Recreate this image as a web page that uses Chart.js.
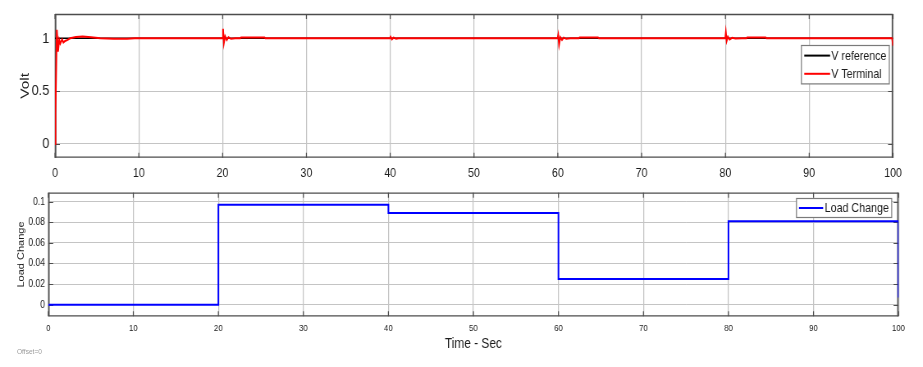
<!DOCTYPE html>
<html>
<head>
<meta charset="utf-8">
<script src="https://cdn.jsdelivr.net/npm/chart.js@4.4.0/dist/chart.umd.min.js"></script>
<style>
    body { margin: 0; background: #fff; width: 923px; height: 367px; overflow: hidden; position: relative; }
    /* the original picture is squeezed sideways, so draw wide and squeeze */
    canvas, #offset { position: absolute; left: 0; transform: scaleX(0.8204); transform-origin: 0 0; }
    #volt-chart { top: 0; }
    #load-chart { top: 185px; }
    #offset { left: 17px; top: 347px; font: 8px "Liberation Sans", Arial, sans-serif; color: #9a9a9a; white-space: nowrap; }
</style>
</head>
<body>
<canvas id="volt-chart" width="1125" height="185"></canvas>
<canvas id="load-chart" width="1125" height="182"></canvas>
<div id="offset">Offset=0</div>
<script>
// tick labels
const timeTicks = [0, 10, 20, 30, 40, 50, 60, 70, 80, 90, 100];
const voltTicks = [0, 0.5, 1];
const loadTicks = [0, 0.02, 0.04, 0.06, 0.08, 0.1];

// V reference
const refTime = [0, 100];
const refVolt = [1, 1];

// V Terminal (transients at 0, 20, 40, 60, 80 s)
const termTime = [
    0, 0.05, 0.22, 0.36, 0.5, 0.63, 0.84, 1.0, 1.2, 1.5, 1.8, 2.5, 3.3, 4.3, 5.4, 7, 8.6, 9.5,
    19.98, 20.05, 20.15, 20.3, 20.5, 20.7, 21.0, 21.5, 22.1, 22.2, 25.0, 25.1,
    39.98, 40.05, 40.2, 40.4, 40.7, 41.0,
    59.98, 60.05, 60.15, 60.3, 60.5, 60.7, 61.0, 61.5, 62.5, 62.6, 64.8, 64.9,
    79.98, 80.05, 80.15, 80.3, 80.5, 80.8, 81.2, 82.0, 82.5, 82.6, 84.8, 84.9,
    99.9, 100
];
const termVolt = [
    0, 0.3, 1.08, 0.875, 0.985, 0.95, 0.99, 0.96, 0.975, 0.985, 1.0, 1.012, 1.018, 1.01, 1.0, 0.995, 0.996, 1.0,
    1.0, 1.09, 0.955, 1.02, 0.985, 1.01, 0.995, 1.0, 1.0, 1.007, 1.007, 1.0,
    1.0, 1.012, 0.99, 1.006, 0.997, 1.0,
    1.0, 1.03, 0.94, 1.01, 0.985, 1.006, 0.995, 1.0, 1.0, 1.007, 1.007, 1.0,
    1.0, 1.055, 0.975, 1.015, 0.99, 1.005, 0.998, 1.0, 1.0, 1.007, 1.007, 1.0,
    1.0, 0.93
];

// Load Change (each value holds until the next time)
const loadTime = [0, 20, 40, 60, 80, 100];
const loadValue = [0, 0.097, 0.089, 0.025, 0.081, 0.007];

const FONT = '"Liberation Sans", Arial, sans-serif';
const SQ = 0.8204; // sideways squeeze of the canvas
const TXT = '#1c1c1c';

const pts = (xs, ys) => xs.map((x, i) => ({ x: x, y: ys[i] }));

// box round the plot with little inward tick marks
const frame = {
    id: 'frame',
    beforeDatasetsDraw(chart) {
        const { ctx, chartArea: a, scales: { x, y } } = chart;
        ctx.save();
        ctx.strokeStyle = '#4d4d4d';
        ctx.lineWidth = 1.2;
        ctx.beginPath();
        x.ticks.forEach(t => {
            const px = x.getPixelForValue(t.value);
            ctx.moveTo(px, a.bottom); ctx.lineTo(px, a.bottom - 5);
            ctx.moveTo(px, a.top); ctx.lineTo(px, a.top + 5);
        });
        ctx.stroke();
        ctx.lineWidth = 1;
        ctx.beginPath();
        y.ticks.forEach(t => {
            const py = Math.round(y.getPixelForValue(t.value)) + 0.5;
            ctx.moveTo(a.left, py); ctx.lineTo(a.left + 6, py);
            ctx.moveTo(a.right, py); ctx.lineTo(a.right - 6, py);
        });
        ctx.stroke();
        ctx.lineWidth = 1.3;
        ctx.beginPath();
        ctx.moveTo(a.left, a.top + 0.5); ctx.lineTo(a.right, a.top + 0.5);
        ctx.moveTo(a.left, a.bottom - 0.5); ctx.lineTo(a.right, a.bottom - 0.5);
        ctx.stroke();
        ctx.lineWidth = 1.6;
        ctx.beginPath();
        ctx.moveTo(a.left + 0.8, a.top); ctx.lineTo(a.left + 0.8, a.bottom);
        ctx.moveTo(a.right - 0.8, a.top); ctx.lineTo(a.right - 0.8, a.bottom);
        ctx.stroke();
        ctx.restore();
    }
};

// MATLAB style legend box inside the plot
const boxLegend = {
    id: 'boxLegend',
    afterDatasetsDraw(chart, args, o) {
        const { ctx, chartArea: a } = chart;
        const sets = chart.data.datasets;
        ctx.save();
        ctx.font = o.font;
        const textW = Math.max(...sets.map(d => ctx.measureText(d.label).width));
        const w = o.padLeft + o.lineLen + o.gap + textW + o.padRight;
        const h = sets.length * o.rowH + o.padV * 2;
        const x0 = a.right - o.right - w;
        const y0 = Math.round(a.top + o.top) + 0.5;
        ctx.fillStyle = '#fff';
        ctx.fillRect(x0, y0, w, h);
        ctx.strokeStyle = '#7a7a7a';
        ctx.lineWidth = 1.2;
        ctx.strokeRect(x0, y0, w, h);
        ctx.textBaseline = 'middle';
        sets.forEach((d, i) => {
            const yy = y0 + o.padV + o.rowH * (i + 0.5);
            ctx.strokeStyle = d.borderColor;
            ctx.lineWidth = 2;
            ctx.beginPath();
            ctx.moveTo(x0 + o.padLeft, yy);
            ctx.lineTo(x0 + o.padLeft + o.lineLen, yy);
            ctx.stroke();
            ctx.fillStyle = TXT;
            ctx.fillText(d.label, x0 + o.padLeft + o.lineLen + o.gap, yy + 0.5);
        });
        ctx.restore();
    }
};

const xGrid = { color: '#c4c4c4', lineWidth: 1.25, drawTicks: false };
const yGrid = { color: '#c4c4c4', lineWidth: 1, drawTicks: false };

// fixed axis sizes, no extra room for overhanging labels
const fixY = w => s => { s.width = w; s.paddingTop = 0; s.paddingBottom = 0; };
const fixX = h => s => { s.height = h; s.paddingLeft = 0; s.paddingRight = 0; };

new Chart(document.getElementById('volt-chart'), {
    type: 'line',
    data: {
        datasets: [
            { label: 'V reference', data: pts(refTime, refVolt), borderColor: '#000000', borderWidth: 1.5, pointRadius: 0, order: 1 },
            { label: 'V Terminal', data: pts(termTime, termVolt), borderColor: '#ff0000', borderWidth: 2, pointRadius: 0, order: 0 }
        ]
    },
    options: {
        responsive: false,
        animation: false,
        events: [],
        layout: { padding: { top: 14, right: 1125 - 893 / SQ, left: 0, bottom: 0 } },
        plugins: {
            legend: { display: false },
            tooltip: { enabled: false },
            boxLegend: { font: '13px ' + FONT, padLeft: 3.5, lineLen: 31.5, gap: 1.5, padRight: 3.5, rowH: 18.2, padV: 1, right: 4.5, top: 31 }
        },
        scales: {
            x: {
                type: 'linear', min: 0, max: 100,
                afterBuildTicks: s => { s.ticks = timeTicks.map(v => ({ value: v })); },
                afterFit: fixX(27.3),
                grid: xGrid,
                border: { display: false },
                ticks: { padding: 8, color: TXT, font: { family: FONT, size: 13 }, maxRotation: 0, autoSkip: false, callback: v => String(v) }
            },
            y: {
                type: 'linear', min: -0.13, max: 1.23,
                afterBuildTicks: s => { s.ticks = voltTicks.map(v => ({ value: v })); },
                afterFit: fixY(55 / SQ),
                grid: yGrid,
                border: { display: false },
                ticks: { padding: 7, color: TXT, font: { family: FONT, size: 15.5 }, callback: v => String(v) },
                title: { display: true, text: 'Volt', color: TXT, font: { family: FONT, size: 15.5 }, padding: { top: 21, bottom: 0 } }
            }
        }
    },
    plugins: [frame, boxLegend]
});

new Chart(document.getElementById('load-chart'), {
    type: 'line',
    data: {
        datasets: [
            { label: 'Load Change', data: pts(loadTime, loadValue), borderColor: '#0000ff', borderWidth: 2, pointRadius: 0, stepped: 'before' }
        ]
    },
    options: {
        responsive: false,
        animation: false,
        events: [],
        layout: { padding: { top: 7.7, right: 1125 - 898.5 / SQ, left: 0, bottom: 0 } },
        plugins: {
            legend: { display: false },
            tooltip: { enabled: false },
            boxLegend: { font: '13px ' + FONT, padLeft: 3, lineLen: 29.5, gap: 2, padRight: 3.5, rowH: 18, padV: 0.5, right: 8.3, top: 5.6 }
        },
        scales: {
            x: {
                type: 'linear', min: 0, max: 100,
                afterBuildTicks: s => { s.ticks = timeTicks.map(v => ({ value: v })); },
                afterFit: fixX(50.7),
                grid: xGrid,
                border: { display: false },
                ticks: { padding: 6, color: TXT, font: { family: FONT, size: 9.5 }, maxRotation: 0, autoSkip: false, callback: v => String(v) },
                title: { display: true, text: 'Time - Sec', color: TXT, font: { family: FONT, size: 14.5 }, padding: { top: 0, bottom: 14 } }
            },
            y: {
                type: 'linear', min: -0.0113, max: 0.1087,
                afterBuildTicks: s => { s.ticks = loadTicks.map(v => ({ value: v })); },
                afterFit: fixY(48.3 / SQ),
                grid: yGrid,
                border: { display: false },
                ticks: { padding: 4, color: TXT, font: { family: FONT, size: 10.5 }, callback: v => String(v) },
                title: { display: true, text: 'Load Change', color: TXT, font: { family: FONT, size: 11 }, padding: { top: 19, bottom: 0 } }
            }
        }
    },
    plugins: [frame, boxLegend]
});
</script>
</body>
</html>
